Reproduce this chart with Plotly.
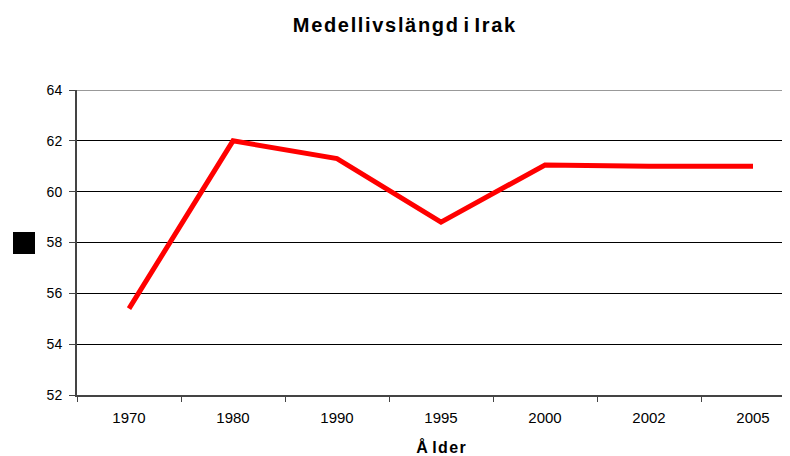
import plotly.graph_objects as go

years = ["1970", "1980", "1990", "1995", "2000", "2002", "2005"]
life_exp = [55.4, 62.0, 61.3, 58.8, 61.05, 61.0, 61.0]
y_ticks = [52, 54, 56, 58, 60, 62, 64]
title_text = "Medellivslängd i Irak"
x_title = "Å lder"


def spaced(s, sep="\u200a"):
    return " ".join(sep.join(word) for word in s.split(" "))


W, H = 797, 448
L, T, B = 69, 82, 61
pw, ph = W - L, H - T - B

fig = go.Figure()
fig.add_trace(go.Scatter(
    x=years, y=life_exp, mode="lines",
    line=dict(color="#FF0000", width=5),
    showlegend=False,
))

font = "Liberation Sans, Arial, sans-serif"
fig.update_layout(
    width=W, height=H,
    margin=dict(l=L, r=0, t=T, b=B),
    paper_bgcolor="white", plot_bgcolor="white",
    title=dict(text="<b>" + spaced(title_text) + "</b>",
               x=396 / W, xanchor="center", y=1 - 17 / H, yanchor="middle",
               font=dict(family=font, size=20, color="black")),
    font=dict(family=font, size=13, color="black"),
    xaxis=dict(
        type="category", categoryorder="array", categoryarray=years,
        range=[-0.5, 6.5],
        tickson="boundaries", ticks="outside", ticklen=5, tickcolor="#444",
        showline=True, linecolor="#444", linewidth=2,
        showgrid=False, tickfont=dict(size=15), ticklabelstandoff=8,
        title=dict(text="<b>" + spaced(x_title) + "</b>", font=dict(size=16), standoff=18),
        automargin=False,
    ),
    yaxis=dict(
        range=[52, 64], tickvals=y_ticks, ticks="outside", ticklen=6, tickcolor="#444",
        showline=True, linecolor="#444", linewidth=2,
        showgrid=True, gridcolor="black", gridwidth=1,
        zeroline=False, tickfont=dict(size=14), ticklabelstandoff=4,
        automargin=False,
    ),
    shapes=[
        dict(type="line", xref="paper", yref="y", x0=0, x1=1, y0=64, y1=64,
             line=dict(color="#999", width=2)),
        dict(type="rect", xref="paper", yref="paper",
             x0=-64 / pw, x1=-42 / pw, y0=(395 - 254) / ph, y1=(395 - 232) / ph,
             fillcolor="black", line=dict(width=0)),
    ],
)

fig.write_html("out.html")
